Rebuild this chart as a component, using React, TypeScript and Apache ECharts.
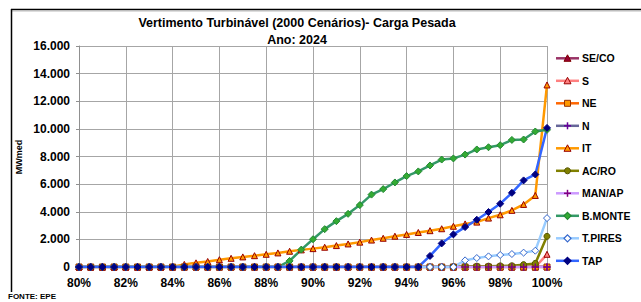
import React, { useEffect, useRef } from "react";
import * as echarts from "echarts";

const xValues = [80, 80.5, 81, 81.5, 82, 82.5, 83, 83.5, 84, 84.5, 85, 85.5, 86, 86.5, 87, 87.5, 88, 88.5, 89, 89.5, 90, 90.5, 91, 91.5, 92, 92.5, 93, 93.5, 94, 94.5, 95, 95.5, 96, 96.5, 97, 97.5, 98, 98.5, 99, 99.5, 100];

const seco = [0, 0, 0, 0, 0, 0, 0, 0, 0, 0, 0, 0, 0, 0, 0, 0, 0, 0, 0, 0, 0, 0, 0, 0, 0, 0, 0, 0, 0, 0, 0, 0, 0, 0, 0, 0, 0, 0, 0, 0, 0];
const s = [0, 0, 0, 0, 0, 0, 0, 0, 0, 0, 0, 0, 0, 0, 0, 0, 0, 0, 0, 0, 0, 0, 0, 0, 0, 0, 0, 0, 0, 0, 0, 0, 0, 0, 0, 0, 0, 0, 0, 0, 920];
const ne = [0, 0, 0, 0, 0, 0, 0, 0, 0, 0, 0, 0, 0, 0, 0, 0, 0, 0, 0, 0, 0, 0, 0, 0, 0, 0, 0, 0, 0, 0, 0, 0, 0, 0, 0, 0, 0, 0, 0, 0, 0];
const n = [0, 0, 0, 0, 0, 0, 0, 0, 0, 0, 0, 0, 0, 0, 0, 0, 0, 0, 0, 0, 0, 0, 0, 0, 0, 0, 0, 0, 0, 0, 0, 0, 0, 0, 0, 0, 0, 0, 0, 0, 0];
const it = [0, 0, 0, 0, 0, 0, 0, 0, 20, 190, 300, 400, 530, 630, 730, 820, 920, 1020, 1140, 1240, 1330, 1430, 1550, 1670, 1800, 1950, 2080, 2230, 2360, 2500, 2630, 2770, 2950, 3120, 3250, 3540, 3780, 4100, 4530, 5180, 13180];
const acro = [0, 0, 0, 0, 0, 0, 0, 0, 0, 0, 0, 0, 0, 0, 0, 0, 0, 0, 0, 0, 0, 0, 0, 0, 0, 0, 0, 0, 0, 0, 0, 0, 20, 40, 60, 60, 80, 90, 170, 260, 2220];
const manap = [0, 0, 0, 0, 0, 0, 0, 0, 0, 0, 0, 0, 0, 0, 0, 0, 0, 0, 0, 0, 0, 0, 0, 0, 0, 0, 0, 0, 0, 0, 0, 0, 0, 0, 0, 0, 0, 0, 0, 0, 0];
const bmonte = [0, 0, 0, 0, 0, 0, 0, 0, 0, 0, 0, 0, 0, 0, 0, 0, 0, 0, 440, 1260, 2010, 2740, 3320, 3850, 4480, 5240, 5640, 6120, 6580, 6920, 7350, 7780, 7860, 8140, 8510, 8670, 8820, 9200, 9230, 9810, 9930];
const tpires = [0, 0, 0, 0, 0, 0, 0, 0, 0, 0, 0, 0, 0, 0, 0, 0, 0, 0, 0, 0, 0, 0, 0, 0, 0, 0, 0, 0, 0, 0, 0, 0, 0, 480, 650, 770, 870, 940, 1040, 1180, 3540];
const tap = [0, 0, 0, 0, 0, 0, 0, 0, 0, 0, 0, 0, 0, 0, 0, 0, 0, 0, 0, 0, 0, 0, 0, 0, 0, 0, 0, 0, 0, 0, 800, 1710, 2360, 2890, 3420, 3980, 4580, 5370, 6270, 6700, 10070];

const seriesNames = ["SE/CO", "S", "NE", "N", "IT", "AC/RO", "MAN/AP", "B.MONTE", "T.PIRES", "TAP"];
const seriesValues = [seco, s, ne, n, it, acro, manap, bmonte, tpires, tap];

const titleLine1 = "Vertimento Turbinável (2000 Cenários)- Carga Pesada";
const titleLine2 = "Ano: 2024";
const yAxisName = "MWmed";
const sourceText = "FONTE: EPE";

const PLUS = "path://M4,0H6V4H10V6H6V10H4V6H0V4H4Z";

const styles = [
  { line: "#993366", symbol: "triangle", fill: "#990033", border: "#800000" },
  { line: "#FF8080", symbol: "triangle", fill: "#FF8080", border: "#990000" },
  { line: "#FF6600", symbol: "rect", fill: "#FF9900", border: "#993300" },
  { line: "#666699", symbol: "plus", fill: "#660099", border: "#660099" },
  { line: "#FF9900", symbol: "triangle", fill: "#FF9900", border: "#990000" },
  { line: "#808000", symbol: "circle", fill: "#808000", border: "#555500" },
  { line: "#CC99FF", symbol: "plus", fill: "#800080", border: "#800080" },
  { line: "#339966", symbol: "diamond", fill: "#33AA33", border: "#228833" },
  { line: "#99CCFF", symbol: "diamond", fill: "#FFFFFF", border: "#3366CC" },
  { line: "#3366FF", symbol: "diamond", fill: "#000080", border: "#000080" },
];

const FONT = "Liberation Sans";

function legendMarker(kind: string, cx: number, cy: number, fill: string, border: string) {
  const r = 3;
  if (kind === "triangle") {
    return { type: "polygon", shape: { points: [[cx, cy - r - 0.5], [cx + r + 0.5, cy + r], [cx - r - 0.5, cy + r]] }, style: { fill, stroke: border, lineWidth: 1 } };
  }
  if (kind === "rect") {
    return { type: "rect", shape: { x: cx - r, y: cy - r, width: 2 * r, height: 2 * r }, style: { fill, stroke: border, lineWidth: 1 } };
  }
  if (kind === "circle") {
    return { type: "circle", shape: { cx, cy, r }, style: { fill, stroke: border, lineWidth: 1 } };
  }
  if (kind === "diamond") {
    return { type: "polygon", shape: { points: [[cx, cy - r - 0.5], [cx + r + 0.5, cy], [cx, cy + r + 0.5], [cx - r - 0.5, cy]] }, style: { fill, stroke: border, lineWidth: 1.2 } };
  }
  return {
    type: "group",
    children: [
      { type: "line", shape: { x1: cx - 3.5, y1: cy, x2: cx + 3.5, y2: cy }, style: { stroke: fill, lineWidth: 1.5 } },
      { type: "line", shape: { x1: cx, y1: cy - 3.5, x2: cx, y2: cy + 3.5 }, style: { stroke: fill, lineWidth: 1.5 } },
    ],
  };
}

export default function App() {
  const ref = useRef<HTMLDivElement>(null);
  useEffect(() => {
    if (!ref.current) return;
    const chart = echarts.init(ref.current, undefined, { renderer: "svg" });
    const series = seriesNames.map((name, i) => {
      const st = styles[i];
      const isPlus = st.symbol === "plus";
      return {
        name,
        type: "line",
        data: xValues.map((x, j) => [x, seriesValues[i][j]]),
        symbol: isPlus ? PLUS : st.symbol,
        symbolSize: st.symbol === "diamond" || isPlus ? 7 : 6,
        showAllSymbol: true,
        lineStyle: { color: st.line, width: 2.5 },
        itemStyle: { color: st.fill, borderColor: st.border, borderWidth: isPlus ? 0 : 1 },
        emphasis: { disabled: true },
      };
    });

    const legendItems: any[] = [];
    seriesNames.forEach((name, i) => {
      const st = styles[i];
      const cy = 58.3 + i * 22.5;
      legendItems.push({ type: "line", shape: { x1: 556, y1: cy, x2: 579, y2: cy }, style: { stroke: st.line, lineWidth: 2.5 } });
      legendItems.push(legendMarker(st.symbol, 567.5, cy, st.fill, st.border));
      legendItems.push({
        type: "text",
        x: 582,
        y: cy,
        style: { text: name, fill: "#000", font: `bold 10.5px "${FONT}"`, textAlign: "left", textVerticalAlign: "middle" },
      });
    });

    chart.setOption({
      animation: false,
      backgroundColor: "#ffffff",
      grid: { left: 79, right: 94, top: 46, bottom: 35, containLabel: false },
      xAxis: {
        type: "value",
        min: 80,
        max: 100,
        interval: 2,
        axisLine: { show: true, lineStyle: { color: "#909090" } },
        axisTick: { show: false },
        splitLine: { show: true, lineStyle: { color: "#A6A6A6", width: 1 } },
        axisLabel: {
          formatter: (v: number) => `${v}%`,
          color: "#000",
          fontWeight: "bold",
          fontFamily: FONT,
          fontSize: 12,
          margin: 10,
        },
      },
      yAxis: {
        type: "value",
        min: 0,
        max: 16000,
        interval: 2000,
        axisLine: { show: true, lineStyle: { color: "#909090" } },
        axisTick: { show: true, length: 3, lineStyle: { color: "#909090" } },
        splitLine: { show: true, lineStyle: { color: "#A6A6A6", width: 1 } },
        axisLabel: {
          formatter: (v: number) => String(v).replace(/\B(?=(\d{3})+(?!\d))/g, "."),
          color: "#000",
          fontWeight: "bold",
          fontFamily: FONT,
          fontSize: 12,
          margin: 9,
        },
      },
      graphic: [
        { type: "line", shape: { x1: 11, y1: 9.5, x2: 641, y2: 9.5 }, style: { stroke: "#000", lineWidth: 1.5 } },
        { type: "line", shape: { x1: 11, y1: 11, x2: 641, y2: 11 }, style: { stroke: "#BBBBBB", lineWidth: 1 } },
        { type: "line", shape: { x1: 11.5, y1: 9, x2: 11.5, y2: 292 }, style: { stroke: "#000", lineWidth: 1.5 } },
        {
          type: "text",
          x: 297,
          y: 23,
          style: { text: titleLine1, fill: "#000", font: `bold 12.5px "${FONT}"`, textAlign: "center", textVerticalAlign: "middle" },
        },
        {
          type: "text",
          x: 297,
          y: 40,
          style: { text: titleLine2, fill: "#000", font: `bold 12.5px "${FONT}"`, textAlign: "center", textVerticalAlign: "middle" },
        },
        {
          type: "text",
          x: 19,
          y: 157,
          rotation: Math.PI / 2,
          style: { text: yAxisName, fill: "#000", font: `bold 9px "${FONT}"`, textAlign: "center", textVerticalAlign: "middle" },
        },
        {
          type: "text",
          x: 8,
          y: 296.5,
          style: { text: sourceText, fill: "#000", font: `bold 8px "${FONT}"`, textAlign: "left", textVerticalAlign: "middle" },
        },
        ...legendItems,
      ],
      series,
    });
    return () => chart.dispose();
  }, []);
  return <div ref={ref} style={{ position: "fixed", left: 0, top: 0, width: 641, height: 302 }} />;
}
